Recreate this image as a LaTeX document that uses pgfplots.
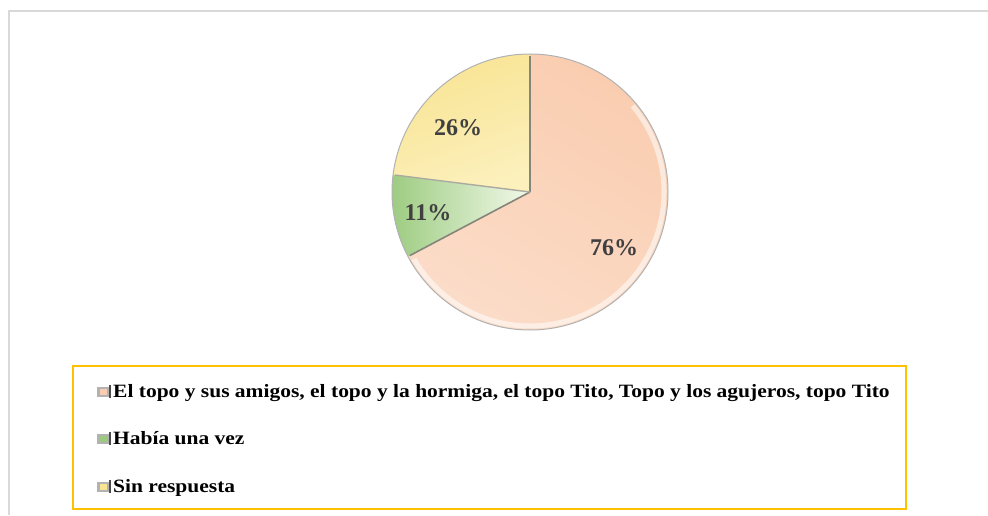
\documentclass[border=0pt]{standalone}
\usepackage{graphicx}
\usepackage{pgfplots}
\usepackage{pgfplotstable}
\pgfplotsset{compat=1.18}
\usepackage{fontspec}
\setmainfont{Liberation Serif}
\definecolor{salmon}{HTML}{FACDB0}
\definecolor{salmonlt}{HTML}{FBDCC8}
\definecolor{pgreen}{HTML}{9CCB80}
\definecolor{pgreenlt}{HTML}{F2F9EA}
\definecolor{pyellow}{HTML}{F8E493}
\definecolor{pyellowlt}{HTML}{FCF0BC}
\definecolor{bevel}{HTML}{85857A}
\definecolor{labtxt}{HTML}{404040}
\definecolor{legbox}{HTML}{FFC000}
\definecolor{frame}{HTML}{D9D9D9}
\pgfplotstableread{
label value
A 76
B 11
C 26
}\piedata
\begin{document}
\begin{tikzpicture}
\pgfplotstablegetelem{0}{value}\of\piedata \let\va\pgfplotsretval
\pgfplotstablegetelem{1}{value}\of\piedata \let\vb\pgfplotsretval
\pgfplotstablegetelem{2}{value}\of\piedata \let\vc\pgfplotsretval
\pgfmathsetmacro\tot{\va+\vb+\vc}
\pgfmathsetmacro\fa{\va/\tot}
\pgfmathsetmacro\fb{\vb/\tot}
\pgfmathsetmacro\fc{\vc/\tot}
\pgfmathsetmacro\aA{90-360*\fa}
\pgfmathsetmacro\aB{\aA-360*\fb}
\pgfmathsetmacro\aC{\aB-360*\fc}
\begin{axis}[
  scale only axis, width=988pt, height=515pt,
  xmin=0, xmax=988, ymin=0, ymax=515,
  hide axis, clip=false, disabledatascaling,
]
% outer frame
\draw[frame, line width=1.2pt] (axis cs:9,0) -- (axis cs:9,504) -- (axis cs:988,504);
\coordinate (C) at (axis cs:530,323);
% salmon sector
\shade[top color=salmon, bottom color=salmonlt, shading angle=-30]
  (C) -- ++(90:138pt) arc[start angle=90, end angle=\aA, radius=138pt] -- cycle;
% green sector
\shade[left color=pgreen, right color=pgreenlt]
  (C) -- ++(\aA:138pt) arc[start angle=\aA, end angle=\aB, radius=138pt] -- cycle;
% yellow sector
\shade[top color=pyellow, bottom color=pyellowlt, shading angle=20]
  (C) -- ++(\aB:138pt) arc[start angle=\aB, end angle=\aC, radius=138pt] -- cycle;
% rim highlight
\draw[white, opacity=0.55, line width=5pt] (C) ++(40:134pt) arc[start angle=40, end angle=-150, radius=134pt];
% bevel edges
\draw[bevel, line width=1.6pt] (C) -- ++(90:136pt);
\draw[bevel, line width=1.6pt] (C) -- ++(\aA:136pt);
\draw[bevel!70, line width=1.4pt] (C) -- ++(\aB:136pt);
\draw[black!30, line width=1pt] (C) circle[radius=138pt];
% labels
\node[font=\bfseries\fontsize{24}{28}\selectfont, text=labtxt] at (axis cs:614,267) {76\%};
\node[font=\bfseries\fontsize{24}{28}\selectfont, text=labtxt] at (axis cs:458,387) {26\%};
\node[font=\bfseries\fontsize{24}{28}\selectfont, text=labtxt] at (axis cs:428,302) {11\%};
% legend
\draw[legbox, line width=2pt] (axis cs:73,6) rectangle (axis cs:906,149);
\fill[black!30] (axis cs:97,118) rectangle (axis cs:109,128);
\fill[salmon] (axis cs:99.5,120.5) rectangle (axis cs:107,126);
\fill[black!70] (axis cs:109,117.5) rectangle (axis cs:111,130);
\fill[black!30] (axis cs:97,71) rectangle (axis cs:109,81);
\fill[pgreen] (axis cs:99.5,73.5) rectangle (axis cs:107,79);
\fill[black!70] (axis cs:109,70.5) rectangle (axis cs:111,83);
\fill[black!30] (axis cs:97,23) rectangle (axis cs:109,33);
\fill[pyellow] (axis cs:99.5,25.5) rectangle (axis cs:107,31);
\fill[black!70] (axis cs:109,22.5) rectangle (axis cs:111,35);
\node[anchor=base west, font=\bfseries\fontsize{18.8}{22}\selectfont, inner sep=0pt] at (axis cs:113,118) {\scalebox{1.143}[1]{El topo y sus amigos, el topo y la hormiga, el topo Tito, Topo y los agujeros, topo Tito}};
\node[anchor=base west, font=\bfseries\fontsize{18.8}{22}\selectfont, inner sep=0pt] at (axis cs:113,71) {\scalebox{1.143}[1]{Había una vez}};
\node[anchor=base west, font=\bfseries\fontsize{18.8}{22}\selectfont, inner sep=0pt] at (axis cs:113,23) {\scalebox{1.143}[1]{Sin respuesta}};
\end{axis}
\pgfresetboundingbox
\path (0,0) rectangle (988pt,515pt);
\end{tikzpicture}
\end{document}
